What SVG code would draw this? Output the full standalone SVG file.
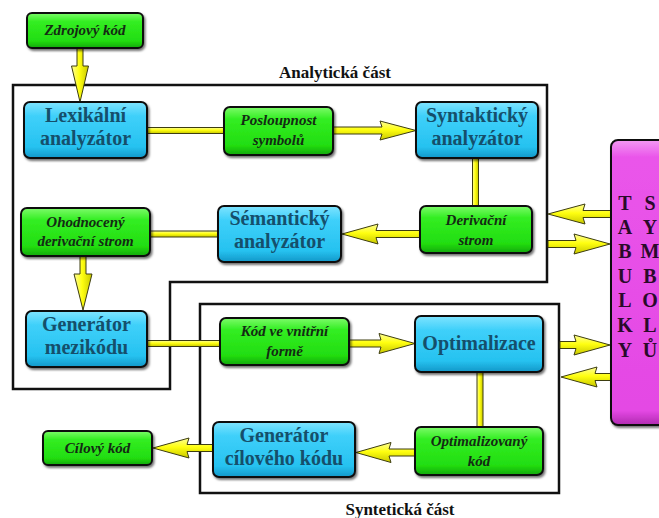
<svg xmlns="http://www.w3.org/2000/svg" width="659" height="518" viewBox="0 0 659 518">
  <defs>
    <linearGradient id="gBlue" x1="0" y1="0" x2="0" y2="1">
      <stop offset="0" stop-color="#7fe4ff"/>
      <stop offset="0.25" stop-color="#3fd0fa"/>
      <stop offset="0.8" stop-color="#26c2f0"/>
      <stop offset="1" stop-color="#1397c8"/>
    </linearGradient>
    <linearGradient id="gGreen" x1="0" y1="0" x2="0" y2="1">
      <stop offset="0" stop-color="#7dfb6a"/>
      <stop offset="0.25" stop-color="#33ee22"/>
      <stop offset="0.8" stop-color="#22dd11"/>
      <stop offset="1" stop-color="#14a80c"/>
    </linearGradient>
    <linearGradient id="gPink" x1="0" y1="0" x2="0" y2="1">
      <stop offset="0" stop-color="#f39af3"/>
      <stop offset="0.06" stop-color="#ea55ea"/>
      <stop offset="0.95" stop-color="#e448e4"/>
      <stop offset="1" stop-color="#b02ab0"/>
    </linearGradient>
    <linearGradient id="gArrowH" x1="0" y1="0" x2="0" y2="1">
      <stop offset="0" stop-color="#fdfd9a"/>
      <stop offset="0.45" stop-color="#ffff10"/>
      <stop offset="1" stop-color="#c8c800"/>
    </linearGradient>
    <linearGradient id="gArrowV" x1="0" y1="0" x2="1" y2="0">
      <stop offset="0" stop-color="#fdfd9a"/>
      <stop offset="0.45" stop-color="#ffff10"/>
      <stop offset="1" stop-color="#c8c800"/>
    </linearGradient>
    <filter id="shadow" x="-10%" y="-10%" width="130%" height="140%">
      <feDropShadow dx="1.5" dy="2" stdDeviation="1.2" flood-color="#000" flood-opacity="0.55"/>
    </filter>
  </defs>
  <style>
    .box { stroke: #111; stroke-width: 2; filter: url(#shadow); }
    .blue { fill: url(#gBlue); }
    .green { fill: url(#gGreen); }
    .pink { fill: url(#gPink); }
    .frame { fill: none; stroke: #111; stroke-width: 2.5; }
    .ah { fill: url(#gArrowH); stroke: #3d3d10; stroke-width: 1; stroke-linejoin: round; }
    .av { fill: url(#gArrowV); stroke: #3d3d10; stroke-width: 1; stroke-linejoin: round; }
    .tb { font-family: "Liberation Serif", "Times New Roman", serif; font-weight: bold; font-size: 20px; fill: #154f6b; text-anchor: middle; }
    .tg { font-family: "Liberation Serif", "Times New Roman", serif; font-weight: bold; font-style: italic; font-size: 15px; fill: #142a14; text-anchor: middle; }
    .lbl { font-family: "Liberation Serif", "Times New Roman", serif; font-weight: bold; font-size: 17px; fill: #111; text-anchor: middle; }
    .tab { font-family: "Liberation Serif", "Times New Roman", serif; font-weight: bold; font-size: 20px; fill: #2a0a2a; text-anchor: middle; }
  </style>

  <!-- section frames -->
  <g id="frames">
    <polygon class="frame" points="13,85 547,85 547,282 170,282 170,389 13,389"/>
    <rect class="frame" x="200" y="304" width="359" height="189"/>
    <text class="lbl" x="335" y="78">Analytická část</text>
    <text class="lbl" x="400" y="515">Syntetická část</text>
  </g>

  <!-- connectors -->
  <g id="connectors">
    <!-- Zdrojový kód -> Lexikální analyzátor -->
    <path class="av" d="M77,48 V66 L71.5,66 L80,102 L88.5,66 L83,66 V48 Z"/>
    <!-- Lexikální analyzátor - Posloupnost symbolů -->
    <rect class="ah" x="147" y="127.5" width="77" height="6"/>
    <!-- Posloupnost symbolů -> Syntaktický analyzátor -->
    <path class="ah" d="M333,127 H382 L380,121 L416,130.5 L380,140 L382,134 H333 Z"/>
    <!-- Syntaktický analyzátor - Derivační strom -->
    <rect class="av" x="472.5" y="158" width="6" height="48"/>
    <!-- Derivační strom -> Sémantický analyzátor -->
    <path class="ah" d="M420,230.5 H376 L378,224 L342,234 L378,244 L376,237.5 H420 Z"/>
    <!-- Sémantický analyzátor - Ohodnocený derivační strom -->
    <rect class="ah" x="150" y="231" width="68" height="6"/>
    <!-- Ohodnocený derivační strom -> Generátor mezikódu -->
    <path class="av" d="M80,256 V274 L74,274 L83,310 L92,274 L86,274 V256 Z"/>
    <!-- Generátor mezikódu - Kód ve vnitřní formě -->
    <rect class="ah" x="147" y="340.5" width="73" height="6"/>
    <!-- Kód ve vnitřní formě -> Optimalizace -->
    <path class="ah" d="M349,340 H381 L379,333.5 L415,343.5 L379,353.5 L381,347 H349 Z"/>
    <!-- Optimalizace - Optimalizovaný kód -->
    <rect class="av" x="477" y="372" width="6" height="55"/>
    <!-- Optimalizovaný kód -> Generátor cílového kódu -->
    <path class="ah" d="M415,449 H389 L391,442.5 L356,452.5 L391,462.5 L389,456 H415 Z"/>
    <!-- Generátor cílového kódu -> Cílový kód -->
    <path class="ah" d="M213,444.5 H187 L189,438 L153,448 L189,458 L187,451.5 H213 Z"/>
    <!-- tables <-> analytic part -->
    <path class="ah" d="M611,210.5 H583 L585,204 L548,214 L585,224 L583,217.5 H611 Z"/>
    <path class="ah" d="M548,240.5 H576 L574,234 L610,244 L574,254 L576,247.5 H548 Z"/>
    <!-- tables <-> synthetic part -->
    <path class="ah" d="M560,341.5 H576 L574,335 L610,345 L574,355 L576,348.5 H560 Z"/>
    <path class="ah" d="M611,373.5 H595 L597,367 L561,377 L597,387 L595,380.5 H611 Z"/>
  </g>

  <!-- nodes -->
  <g id="zdrojovy-kod">
    <rect class="box green" x="27" y="13" width="116" height="35" rx="5"/>
    <text class="tg" x="85" y="35">Zdrojový kód</text>
  </g>
  <g id="lexikalni-analyzator">
    <rect class="box blue" x="24" y="102" width="123" height="56" rx="6"/>
    <text class="tb" x="85.5" y="122">Lexikální</text>
    <text class="tb" x="85.5" y="145">analyzátor</text>
  </g>
  <g id="posloupnost-symbolu">
    <rect class="box green" x="224" y="107" width="109" height="48" rx="6"/>
    <text class="tg" x="278.5" y="125">Posloupnost</text>
    <text class="tg" x="278.5" y="145">symbolů</text>
  </g>
  <g id="syntakticky-analyzator">
    <rect class="box blue" x="416" y="102" width="122" height="56" rx="6"/>
    <text class="tb" x="477" y="122">Syntaktický</text>
    <text class="tb" x="477" y="145">analyzátor</text>
  </g>
  <g id="derivacni-strom">
    <rect class="box green" x="420" y="206" width="112" height="47" rx="6"/>
    <text class="tg" x="476" y="225">Derivační</text>
    <text class="tg" x="476" y="245">strom</text>
  </g>
  <g id="semanticky-analyzator">
    <rect class="box blue" x="218" y="206" width="123" height="56" rx="6"/>
    <text class="tb" x="279.5" y="225">Sémantický</text>
    <text class="tb" x="279.5" y="248">analyzátor</text>
  </g>
  <g id="ohodnoceny-derivacni-strom">
    <rect class="box green" x="21" y="208" width="129" height="48" rx="6"/>
    <text class="tg" x="85.5" y="227">Ohodnocený</text>
    <text class="tg" x="85.5" y="246">derivační strom</text>
  </g>
  <g id="generator-mezikodu">
    <rect class="box blue" x="26" y="311" width="121" height="56" rx="6"/>
    <text class="tb" x="86.5" y="331">Generátor</text>
    <text class="tb" x="86.5" y="354">mezikódu</text>
  </g>
  <g id="kod-ve-vnitrni-forme">
    <rect class="box green" x="220" y="318" width="129" height="47" rx="6"/>
    <text class="tg" x="284.5" y="336">Kód ve vnitřní</text>
    <text class="tg" x="284.5" y="356">formě</text>
  </g>
  <g id="optimalizace">
    <rect class="box blue" x="415" y="316" width="128" height="56" rx="6"/>
    <text class="tb" x="479" y="350">Optimalizace</text>
  </g>
  <g id="optimalizovany-kod">
    <rect class="box green" x="415" y="427" width="128" height="48" rx="6"/>
    <text class="tg" x="479" y="446">Optimalizovaný</text>
    <text class="tg" x="479" y="466">kód</text>
  </g>
  <g id="generator-ciloveho-kodu">
    <rect class="box blue" x="213" y="422" width="142" height="55" rx="6"/>
    <text class="tb" x="284" y="442">Generátor</text>
    <text class="tb" x="284" y="465">cílového kódu</text>
  </g>
  <g id="cilovy-kod">
    <rect class="box green" x="43" y="431" width="109" height="34" rx="5"/>
    <text class="tg" x="97.5" y="453">Cílový kód</text>
  </g>
  <g id="tabulky-symbolu">
    <rect class="box pink" x="611" y="140" width="62" height="285" rx="7"/>
    <text class="tab" x="625" y="210">T</text>
    <text class="tab" x="625" y="234">A</text>
    <text class="tab" x="625" y="258">B</text>
    <text class="tab" x="625" y="283">U</text>
    <text class="tab" x="625" y="307">L</text>
    <text class="tab" x="625" y="332">K</text>
    <text class="tab" x="625" y="357">Y</text>
    <text class="tab" x="650" y="210">S</text>
    <text class="tab" x="650" y="234">Y</text>
    <text class="tab" x="650" y="258">M</text>
    <text class="tab" x="650" y="283">B</text>
    <text class="tab" x="650" y="307">O</text>
    <text class="tab" x="650" y="332">L</text>
    <text class="tab" x="650" y="357">Ů</text>
  </g>
</svg>
